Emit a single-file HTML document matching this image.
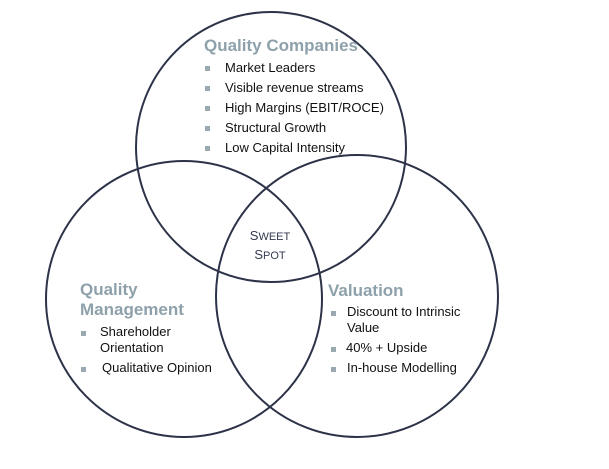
<!DOCTYPE html>
<html><head><style>
body{margin:0;width:609px;height:469px;background:#fff;overflow:hidden;font-family:"Liberation Sans",Arial,sans-serif;}
svg{position:absolute;left:0;top:0}
.t{position:absolute;white-space:nowrap;font-size:13px;color:#111;line-height:16px}
.h{position:absolute;white-space:nowrap;font-size:17px;font-weight:bold;color:#8ea1ab;line-height:20px}
.b{position:absolute;width:5px;height:5px;background:#9aa8b0}
</style></head><body>
<svg width="609" height="469">
<g fill="none" stroke="#2c3248" stroke-width="2">
<circle cx="271" cy="147" r="135"/>
<circle cx="184" cy="299" r="138"/>
<circle cx="357" cy="296" r="141"/>
</g>
</svg>
<div class="h" style="left:204px;top:36px">Quality Companies</div>
<div class="b" style="left:205px;top:66px"></div><div class="t" style="left:225px;top:60px">Market Leaders</div>
<div class="b" style="left:205px;top:86px"></div><div class="t" style="left:225px;top:80px">Visible revenue streams</div>
<div class="b" style="left:205px;top:106px"></div><div class="t" style="left:225px;top:100px">High Margins (EBIT/ROCE)</div>
<div class="b" style="left:205px;top:126px"></div><div class="t" style="left:225px;top:120px">Structural Growth</div>
<div class="b" style="left:205px;top:146px"></div><div class="t" style="left:225px;top:140px">Low Capital Intensity</div>
<div class="t" style="left:240px;top:227px;width:60px;text-align:center;color:#333a50;font-size:13px;line-height:17px">S<span style="font-size:11px">WEET</span><br>S<span style="font-size:11px">POT</span></div>
<div class="h" style="left:80px;top:280px">Quality<br>Management</div>
<div class="b" style="left:81px;top:331px"></div><div class="t" style="left:100px;top:324px">Shareholder<br>Orientation</div>
<div class="b" style="left:81px;top:367px"></div><div class="t" style="left:102px;top:360px">Qualitative Opinion</div>
<div class="h" style="left:328px;top:281px">Valuation</div>
<div class="b" style="left:331px;top:311px"></div><div class="t" style="left:347px;top:304px">Discount to Intrinsic<br>Value</div>
<div class="b" style="left:331px;top:347px"></div><div class="t" style="left:346px;top:340px">40% + Upside</div>
<div class="b" style="left:331px;top:367px"></div><div class="t" style="left:347px;top:360px">In-house Modelling</div>
</body></html>
